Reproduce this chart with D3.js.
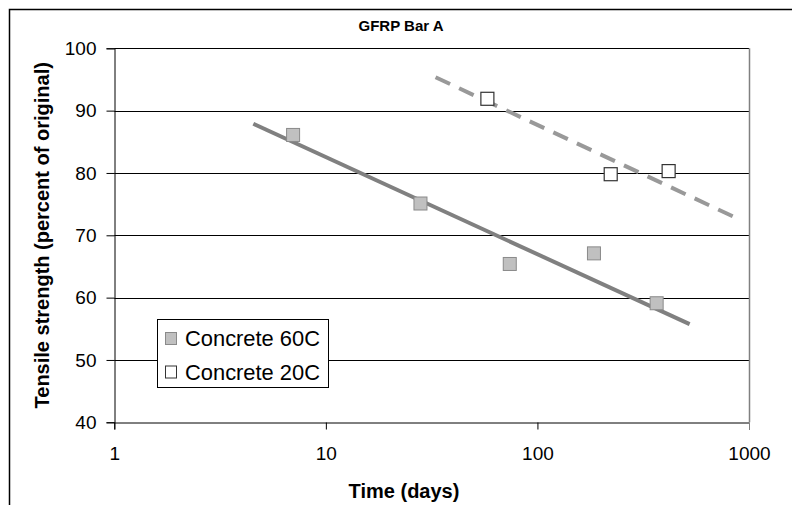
<!DOCTYPE html>
<html>
<head>
<meta charset="utf-8">
<script src="https://cdn.jsdelivr.net/npm/d3@7"></script>
<style>
  html, body { margin: 0; padding: 0; background: #fff; }
  svg { display: block; font-family: "Liberation Sans", Arial, sans-serif; }
</style>
</head>
<body>
<svg id="chart" width="792" height="505"></svg>
<script>
// ---- data ----
const title = "GFRP Bar A";
const xTitle = "Time (days)";
const yTitle = "Tensile strength (percent of original)";
const xTicks = [1, 10, 100, 1000];
const yTicks = [40, 50, 60, 70, 80, 90, 100];

const seriesNames = ["Concrete 60C", "Concrete 20C"];
const days60 = [7, 28, 74, 185, 366];
const strength60 = [86.1, 75.1, 65.4, 67.1, 59.1];
const days20 = [58, 222, 417];
const strength20 = [91.9, 79.8, 80.3];
// trend lines (end points)
const trend60Days = [4.54, 524];
const trend60Vals = [87.9, 55.75];
const trend20Days = [33.0, 899];
const trend20Vals = [95.35, 72.57];

// ---- layout ----
const svg = d3.select("#chart");
const x = d3.scaleLog().domain([1, 1000]).range([114.3, 749]);
const y = d3.scaleLinear().domain([40, 100]).range([422.3, 48.3]);

// chart border (extends beyond the viewport on right and bottom)
svg.append("rect").attr("x", 9.5).attr("y", 9.5).attr("width", 800).attr("height", 520)
  .attr("fill", "#fff").attr("stroke", "#000").attr("stroke-width", 1.5);

// gridlines
svg.append("g").selectAll("line").data(yTicks.filter(d => d > 40)).join("line")
  .attr("x1", x(1)).attr("x2", x(1000))
  .attr("y1", d => Math.round(y(d)) + 0.5).attr("y2", d => Math.round(y(d)) + 0.5)
  .attr("stroke", "#000").attr("stroke-width", 1);

// right plot border
svg.append("line").attr("x1", Math.round(x(1000)) + 0.5).attr("x2", Math.round(x(1000)) + 0.5)
  .attr("y1", y(100)).attr("y2", y(40))
  .attr("stroke", "#808080").attr("stroke-width", 1.5);

// axes
const yAxis = d3.axisLeft(y).tickValues(yTicks).tickSize(8).tickPadding(10).tickFormat(d3.format("d"));
const gy = svg.append("g").attr("transform", `translate(${Math.round(x(1)) + 0.5},0)`).call(yAxis);
gy.select(".domain").attr("stroke", "#000");
gy.selectAll(".tick line").attr("stroke", "#000");
gy.selectAll(".tick text").attr("font-size", 19).attr("fill", "#000")
  .attr("font-family", "Liberation Sans, Arial, sans-serif");

const xAxis = d3.axisBottom(x).tickValues(xTicks).tickSize(7).tickPadding(17).tickFormat(d3.format("d"));
const gx = svg.append("g").attr("transform", `translate(0,${Math.round(y(40)) + 0.5})`).call(xAxis);
gx.select(".domain").attr("stroke", "#000");
gx.selectAll(".tick line").attr("stroke", (d) => d === 1000 ? "#808080" : "#000");
gx.selectAll(".tick text").attr("font-size", 19).attr("fill", "#000")
  .attr("font-family", "Liberation Sans, Arial, sans-serif");

// trend lines
const line = d3.line().x(d => x(d[0])).y(d => y(d[1]));
svg.append("path").datum(d3.zip(trend60Days, trend60Vals)).attr("d", line)
  .attr("fill", "none").attr("stroke", "#808080").attr("stroke-width", 4);
svg.append("path").datum(d3.zip(trend20Days, trend20Vals)).attr("d", line)
  .attr("fill", "none").attr("stroke", "#999").attr("stroke-width", 4)
  .attr("stroke-dasharray", "16,10");

// markers
const ms = 13;
svg.append("g").selectAll("rect").data(d3.zip(days60, strength60)).join("rect")
  .attr("x", d => x(d[0]) - ms / 2).attr("y", d => y(d[1]) - ms / 2)
  .attr("width", ms).attr("height", ms)
  .attr("fill", "#c0c0c0").attr("stroke", "#8a8a8a").attr("stroke-width", 1);
svg.append("g").selectAll("rect").data(d3.zip(days20, strength20)).join("rect")
  .attr("x", d => x(d[0]) - ms / 2).attr("y", d => y(d[1]) - ms / 2)
  .attr("width", ms).attr("height", ms)
  .attr("fill", "#fff").attr("stroke", "#333").attr("stroke-width", 1.2);

// legend
const lg = svg.append("g");
lg.append("rect").attr("x", 157.5).attr("y", 319.5).attr("width", 171).attr("height", 68)
  .attr("fill", "#fff").attr("stroke", "#000").attr("stroke-width", 1);
const legItems = [
  { name: seriesNames[0], fill: "#c0c0c0", stroke: "#8a8a8a", cy: 338.5 },
  { name: seriesNames[1], fill: "#fff", stroke: "#333", cy: 372 }
];
legItems.forEach(it => {
  lg.append("rect").attr("x", 165.5).attr("y", it.cy - 6).attr("width", 11).attr("height", 12)
    .attr("fill", it.fill).attr("stroke", it.stroke).attr("stroke-width", 1);
  lg.append("text").attr("x", 185).attr("y", it.cy + 7.5).attr("font-size", 21.5)
    .attr("textLength", 135).attr("lengthAdjust", "spacingAndGlyphs")
    .attr("fill", "#000").text(it.name);
});

// titles
svg.append("text").attr("x", 401).attr("y", 31).attr("text-anchor", "middle")
  .attr("font-size", 15).attr("font-weight", "bold").text(title);
svg.append("text").attr("x", 404).attr("y", 498).attr("text-anchor", "middle")
  .attr("font-size", 20).attr("font-weight", "bold").text(xTitle);
svg.append("text").attr("transform", `translate(49,${(y(40) + y(100)) / 2}) rotate(-90)`)
  .attr("text-anchor", "middle").attr("font-size", 20).attr("font-weight", "bold").text(yTitle);
</script>
</body>
</html>
